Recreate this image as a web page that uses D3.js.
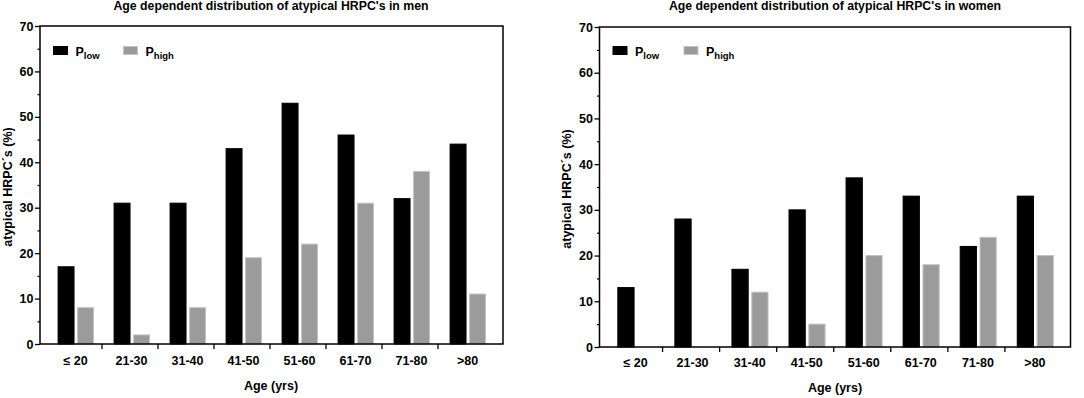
<!DOCTYPE html>
<html><head><meta charset="utf-8">
<script src="https://cdn.jsdelivr.net/npm/d3@7"></script>
<style>
body{margin:0;background:#fff;}
text{font-family:"Liberation Sans",Arial,sans-serif;font-weight:bold;fill:#000;}
</style></head>
<body><svg id="c" width="1084" height="398"></svg>
<script>
const categories = ["\u2264 20","21-30","31-40","41-50","51-60","61-70","71-80",">80"];
const seriesNames = ["low","high"];
const menLow   = [17,31,31,43,53,46,32,44];
const menHigh  = [8,2,8,19,22,31,38,11];
const womenLow = [13,28,17,30,37,33,22,33];
const womenHigh= [0,0,12,5,20,18,24,20];
const yTicks = [0,10,20,30,40,50,60,70];
const yMinorTicks = [5,15,25,35,45,55,65];
const titles = ["Age dependent distribution of atypical HRPC's in men","Age dependent distribution of atypical HRPC's in women"];
const yLabel = "atypical HRPC\u00B4s (%)";
const xLabel = "Age (yrs)";

const svg = d3.select("#c");
const colors = {low:"#000000", high:"#9b9b9b"};
const strokes = {low:"#000000", high:"#c4c4c4"};

function panel(cfg){
  const g = svg.append("g");
  const y = d3.scaleLinear().domain([0,70]).range([cfg.y0, cfg.yTop]);
  const x = d3.scaleBand().domain(categories).range([cfg.x0+cfg.padL, cfg.x1-cfg.padR]);
  const bw = x.bandwidth();
  const xs = d3.scaleBand().domain(seriesNames).range([bw*0.207, bw*0.857]).paddingInner(0.13);
  const data = categories.map((c,i)=>({cat:c, low:cfg.low[i], high:cfg.high[i]}));

  seriesNames.forEach(s=>{
    g.selectAll("rect.b"+s).data(data.filter(d=>d[s]>0)).enter().append("rect")
      .attr("x", d=>x(d.cat)+xs(s)+0.5)
      .attr("y", d=>y(d[s]))
      .attr("width", xs.bandwidth()-1)
      .attr("height", d=>y(0)-y(d[s]))
      .attr("fill", colors[s])
      .attr("stroke", strokes[s]).attr("stroke-width",1);
  });

  g.append("rect").attr("x",cfg.x0).attr("y",cfg.yTop).attr("width",cfg.x1-cfg.x0).attr("height",cfg.y0-cfg.yTop)
    .attr("fill","none").attr("stroke","#000").attr("stroke-width",1.5);

  const ya = d3.axisLeft(y).tickValues(yTicks).tickSize(5).tickSizeOuter(0).tickPadding(1.5);
  const yg = g.append("g").attr("transform",`translate(${cfg.x0},0)`).call(ya);
  yg.select(".domain").remove();
  yg.selectAll("line").attr("stroke","#000").attr("stroke-width",1.3);
  yg.selectAll("text").style("font-size","12.5px").style("font-family","Liberation Sans, Arial").style("font-weight","bold");
  const ym = d3.axisLeft(y).tickValues(yMinorTicks).tickSize(2.5).tickFormat("");
  const ymg = g.append("g").attr("transform",`translate(${cfg.x0},0)`).call(ym);
  ymg.select(".domain").remove();
  ymg.selectAll("line").attr("stroke","#000").attr("stroke-width",1.2);

  const bounds = categories.slice(1).map(c=>x(c));
  g.selectAll("line.xt").data(bounds).enter().append("line")
    .attr("x1",d=>d).attr("x2",d=>d).attr("y1",cfg.y0).attr("y2",cfg.y0+5)
    .attr("stroke","#000").attr("stroke-width",1.3);
  g.selectAll("text.xl").data(categories).enter().append("text")
    .attr("x",c=>x(c)+bw/2+1.5).attr("y",cfg.xLabY)
    .attr("text-anchor","middle").style("font-size","12.5px").text(c=>c);

  g.append("text").attr("x",cfg.cx).attr("y",9.8).attr("text-anchor","middle").style("font-size","12.3px").text(cfg.title);
  g.append("text").attr("x",cfg.cx).attr("y",cfg.xTitleY).attr("text-anchor","middle").style("font-size","12.5px").text(xLabel);
  g.append("text").attr("transform",`translate(${cfg.yLabX},${(cfg.y0+cfg.yTop)/2 + 2}) rotate(-90)`)
    .attr("text-anchor","middle").style("font-size","12.5px").text(yLabel);

  const lg = g.append("g");
  seriesNames.forEach((s,i)=>{
    const lx = cfg.legX[i];
    lg.append("rect").attr("x",lx).attr("y",46.5).attr("width",14).attr("height",8)
      .attr("fill",colors[s]).attr("stroke",strokes[s]).attr("stroke-width",1);
    const t = lg.append("text").attr("x",lx+22).attr("y",56).style("font-size","12.5px");
    t.append("tspan").text("P");
    t.append("tspan").attr("dy",2.5).style("font-size","9.5px").text(s);
  });
}

panel({x0:40, x1:503, y0:344, yTop:26, padL:6, padR:9, low:menLow, high:menHigh, title:titles[0],
  cx:271, xLabY:365, xTitleY:390, yLabX:12, legX:[53.5,123.5]});
panel({x0:599.5, x1:1070.5, y0:347, yTop:27, padL:6, padR:8.5, low:womenLow, high:womenHigh, title:titles[1],
  cx:835, xLabY:367, xTitleY:392, yLabX:571, legX:[613,684]});
</script></body></html>
